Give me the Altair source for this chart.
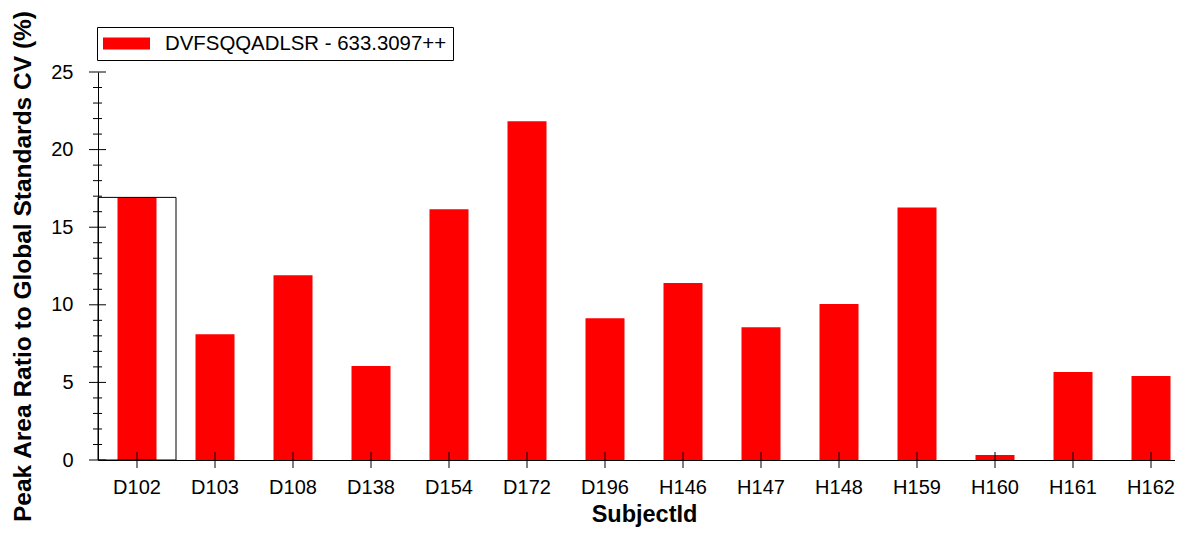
import altair as alt
import pandas as pd

subjects = ["D102", "D103", "D108", "D138", "D154", "D172", "D196",
            "H146", "H147", "H148", "H159", "H160", "H161", "H162"]
cv_values = [16.92, 8.11, 11.91, 6.06, 16.16, 21.83, 9.14,
             11.40, 8.56, 10.05, 16.27, 0.32, 5.67, 5.41]
series_name = "DVFSQQADLSR - 633.3097++"
selected_subject = "D102"
major_ticks = [0, 5, 10, 15, 20, 25]
minor_ticks = [1, 2, 3, 4, 6, 7, 8, 9, 11, 12, 13, 14, 16, 17, 18, 19, 21, 22, 23, 24]

df = pd.DataFrame({"SubjectId": subjects, "CV": cv_values, "Series": series_name})
major_df = pd.DataFrame({"CV": major_ticks})
minor_df = pd.DataFrame({"CV": minor_ticks})

FONT = "Liberation Sans"
W = 1092
H = 388

x_scale = alt.Scale(domain=subjects, paddingInner=0.5, paddingOuter=0.25)
y_scale = alt.Scale(domain=[0, 25], nice=False, zero=True)

x_axis = alt.Axis(
    title="SubjectId", titleFont=FONT, titleFontSize=23.5, titleFontWeight="bold",
    titleColor="black", titleY=61, titleBaseline="alphabetic",
    labelAngle=0, labelFont=FONT, labelFontSize=20, labelColor="black",
    labelPadding=17, ticks=False, domainColor="black", domainWidth=1, grid=False,
)
y_axis = alt.Axis(
    title="Peak Area Ratio to Global Standards CV (%)", titleFont=FONT,
    titleFontSize=24.5, titleFontWeight="bold", titleColor="black",
    titleX=-68, titleY=H / 2, titleBaseline="alphabetic", titleAngle=270,
    values=major_ticks, labelFont=FONT, labelFontSize=20, labelColor="black",
    labelPadding=25, ticks=False, domainColor="black", domainWidth=1, grid=False,
)

bars = alt.Chart(df).mark_bar(color="#FF0000").encode(
    x=alt.X("SubjectId:N", sort=subjects, scale=x_scale, axis=x_axis),
    y=alt.Y("CV:Q", scale=y_scale, axis=y_axis),
    color=alt.Color(
        "Series:N",
        scale=alt.Scale(domain=[series_name], range=["#FF0000"]),
        legend=alt.Legend(
            title=None, orient="none", legendX=-1, legendY=-45,
            strokeColor="black", fillColor="white", padding=6, cornerRadius=0,
            symbolType="M-2.24,-0.57H2.24V0.57H-2.24Z", symbolSize=441,
            symbolOffset=13, symbolStrokeWidth=0, symbolOpacity=1,
            labelFont=FONT, labelFontSize=20.4, labelColor="black",
            labelOffset=28, labelLimit=0, labelExpr="datum.label + '\u2002'",
        ),
    ),
)

selection_box = alt.Chart(df).transform_filter(
    alt.datum.SubjectId == selected_subject
).mark_bar(
    filled=False, stroke="black", strokeWidth=1, width=alt.RelativeBandSize(2)
).encode(
    x=alt.X("SubjectId:N", sort=subjects),
    y=alt.Y("CV:Q"),
)

y_major = alt.Chart(major_df).mark_tick(
    orient="horizontal", size=17, thickness=1, color="black", opacity=1
).encode(y=alt.Y("CV:Q"), x=alt.value(-0.5))

y_minor = alt.Chart(minor_df).mark_tick(
    orient="horizontal", size=9, thickness=1, color="black", opacity=1
).encode(y=alt.Y("CV:Q"), x=alt.value(-0.5))

x_ticks = alt.Chart(df).mark_tick(
    orient="vertical", size=16, thickness=1, color="black", opacity=1
).encode(x=alt.X("SubjectId:N", sort=subjects), y=alt.value(H))

chart = alt.layer(bars, selection_box, y_major, y_minor, x_ticks).properties(
    width=W, height=H,
    autosize=alt.AutoSizeParams(type="none"),
    padding={"left": 90, "top": 64, "right": -15, "bottom": 67},
    background="white",
).configure_view(strokeWidth=0)

chart.save("out.html", embed_options={"renderer": "svg", "actions": False})
